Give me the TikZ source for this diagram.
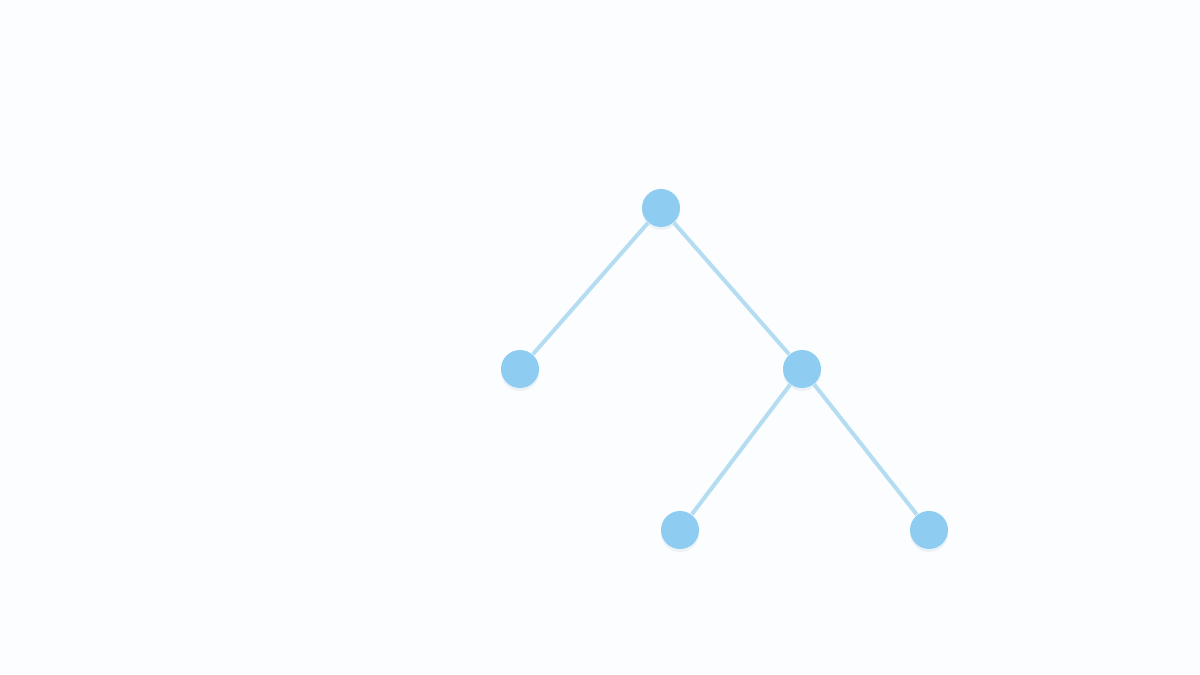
\documentclass[tikz,border=0pt]{standalone}
\usepackage{tikz}
\usepackage{xcolor}
\usetikzlibrary{shadows}
\definecolor{nodeblue}{HTML}{8ECCF1}
\definecolor{edgeblue}{HTML}{B5DDF1}
\definecolor{paper}{HTML}{FCFDFE}
\tikzset{
    tree-node/.style = {circle, fill=nodeblue, minimum size=0.38cm, inner sep=0pt,
        drop shadow={shadow xshift=0pt, shadow yshift=-0.03cm, opacity=0.12, fill=nodeblue!80!black}},
    tree-edge/.style = {draw=edgeblue, line width=0.04cm},
}

\begin{document}
\begin{tikzpicture}
\fill[paper] (0,0) rectangle (12,6.75);
\useasboundingbox (0,0) rectangle (12,6.75);
\node[tree-node] (root) at (6.61,4.67) {};
\node[tree-node] (left) at (5.20,3.06) {};
\node[tree-node] (right) at (8.02,3.06) {};
\node[tree-node] (right-left) at (6.80,1.45) {};
\node[tree-node] (right-right) at (9.29,1.45) {};
\draw[tree-edge] (root) -- (left);
\draw[tree-edge] (root) -- (right);
\draw[tree-edge] (right) -- (right-left);
\draw[tree-edge] (right) -- (right-right);
\end{tikzpicture}
\end{document}
